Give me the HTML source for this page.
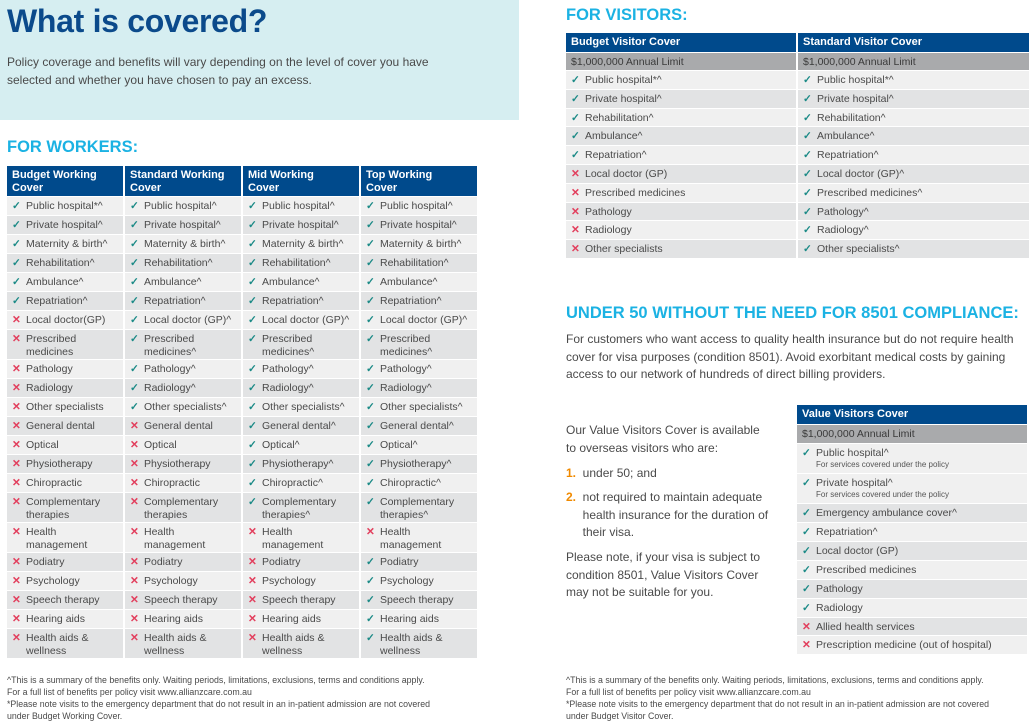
<!DOCTYPE html>
<html><head><meta charset="utf-8">
<style>
*{margin:0;padding:0;box-sizing:border-box}
body{width:1035px;height:727px;background:#fff;position:relative;overflow:hidden;font-family:"Liberation Sans",sans-serif;color:#4a4a4a}
.abs{position:absolute}
.hero{left:0;top:0;width:519px;height:120px;background:#d6eef1}
h1{position:absolute;left:7px;top:3px;font-size:32px;color:#0b4a8b;font-weight:bold;letter-spacing:-0.3px}
.sec{position:absolute;font-size:16.5px;font-weight:bold;color:#1bb2e3}
.p{position:absolute;font-size:12px;line-height:17.5px;color:#4a4a4a}
table{position:absolute;border-collapse:separate;border-spacing:2px 1px;table-layout:fixed}
td,th{font-size:10.5px;vertical-align:top;padding:3px 4px 0 5px;line-height:13px;overflow:hidden;white-space:nowrap}
th{background:#004a8c;color:#fff;text-align:left;font-size:11px;line-height:13px;padding-top:3px}
tr.l td{background:#f0f0f0}
tr.d td{background:#e2e3e4}
tr.g td{background:#a9aaac;color:#3a3a3a}
td.c::before{content:"✓";color:#1b8a86;font-weight:bold;display:inline-block;width:14px}
td.x::before{content:"✕";color:#e2405e;font-weight:bold;display:inline-block;width:14px}
td span{display:inline-block;vertical-align:top;white-space:normal}
.s{font-size:8px;color:#555;display:block;margin-left:14px;line-height:10px}
.fn{position:absolute;font-size:8.8px;line-height:12px;color:#4a4a4a}
</style></head><body>
<div class="abs hero"></div>
<h1>What is covered?</h1>
<div class="p" style="left:7px;top:54px">Policy coverage and benefits will vary depending on the level of cover you have<br>selected and whether you have chosen to pay an excess.</div>
<div class="sec" style="left:7px;top:138px">FOR WORKERS:</div>

<table style="left:5px;top:165px;width:472px">
<colgroup><col style="width:116px"><col style="width:116px"><col style="width:116px"><col style="width:116px"></colgroup>
<tr style="height:30px"><th>Budget Working<br>Cover</th><th>Standard Working<br>Cover</th><th>Mid Working<br>Cover</th><th>Top Working<br>Cover</th></tr>
<tr class="l" style="height:18px"><td class="c">Public hospital*^</td><td class="c">Public hospital^</td><td class="c">Public hospital^</td><td class="c">Public hospital^</td></tr>
<tr class="d" style="height:18px"><td class="c">Private hospital^</td><td class="c">Private hospital^</td><td class="c">Private hospital^</td><td class="c">Private hospital^</td></tr>
<tr class="l" style="height:18px"><td class="c">Maternity &amp; birth^</td><td class="c">Maternity &amp; birth^</td><td class="c">Maternity &amp; birth^</td><td class="c">Maternity &amp; birth^</td></tr>
<tr class="d" style="height:18px"><td class="c">Rehabilitation^</td><td class="c">Rehabilitation^</td><td class="c">Rehabilitation^</td><td class="c">Rehabilitation^</td></tr>
<tr class="l" style="height:18px"><td class="c">Ambulance^</td><td class="c">Ambulance^</td><td class="c">Ambulance^</td><td class="c">Ambulance^</td></tr>
<tr class="d" style="height:18px"><td class="c">Repatriation^</td><td class="c">Repatriation^</td><td class="c">Repatriation^</td><td class="c">Repatriation^</td></tr>
<tr class="l" style="height:18px"><td class="x">Local doctor(GP)</td><td class="c">Local doctor (GP)^</td><td class="c">Local doctor (GP)^</td><td class="c">Local doctor (GP)^</td></tr>
<tr class="d" style="height:29px"><td class="x"><span>Prescribed<br>medicines</span></td><td class="c"><span>Prescribed<br>medicines^</span></td><td class="c"><span>Prescribed<br>medicines^</span></td><td class="c"><span>Prescribed<br>medicines^</span></td></tr>
<tr class="l" style="height:18px"><td class="x">Pathology</td><td class="c">Pathology^</td><td class="c">Pathology^</td><td class="c">Pathology^</td></tr>
<tr class="d" style="height:18px"><td class="x">Radiology</td><td class="c">Radiology^</td><td class="c">Radiology^</td><td class="c">Radiology^</td></tr>
<tr class="l" style="height:18px"><td class="x">Other specialists</td><td class="c">Other specialists^</td><td class="c">Other specialists^</td><td class="c">Other specialists^</td></tr>
<tr class="d" style="height:18px"><td class="x">General dental</td><td class="x">General dental</td><td class="c">General dental^</td><td class="c">General dental^</td></tr>
<tr class="l" style="height:18px"><td class="x">Optical</td><td class="x">Optical</td><td class="c">Optical^</td><td class="c">Optical^</td></tr>
<tr class="d" style="height:18px"><td class="x">Physiotherapy</td><td class="x">Physiotherapy</td><td class="c">Physiotherapy^</td><td class="c">Physiotherapy^</td></tr>
<tr class="l" style="height:18px"><td class="x">Chiropractic</td><td class="x">Chiropractic</td><td class="c">Chiropractic^</td><td class="c">Chiropractic^</td></tr>
<tr class="d" style="height:29px"><td class="x"><span>Complementary<br>therapies</span></td><td class="x"><span>Complementary<br>therapies</span></td><td class="c"><span>Complementary<br>therapies^</span></td><td class="c"><span>Complementary<br>therapies^</span></td></tr>
<tr class="l" style="height:29px"><td class="x"><span>Health<br>management</span></td><td class="x"><span>Health<br>management</span></td><td class="x"><span>Health<br>management</span></td><td class="x"><span>Health<br>management</span></td></tr>
<tr class="d" style="height:18px"><td class="x">Podiatry</td><td class="x">Podiatry</td><td class="x">Podiatry</td><td class="c">Podiatry</td></tr>
<tr class="l" style="height:18px"><td class="x">Psychology</td><td class="x">Psychology</td><td class="x">Psychology</td><td class="c">Psychology</td></tr>
<tr class="d" style="height:18px"><td class="x">Speech therapy</td><td class="x">Speech therapy</td><td class="x">Speech therapy</td><td class="c">Speech therapy</td></tr>
<tr class="l" style="height:18px"><td class="x">Hearing aids</td><td class="x">Hearing aids</td><td class="x">Hearing aids</td><td class="c">Hearing aids</td></tr>
<tr class="d" style="height:29px"><td class="x"><span>Health aids &amp;<br>wellness</span></td><td class="x"><span>Health aids &amp;<br>wellness</span></td><td class="x"><span>Health aids &amp;<br>wellness</span></td><td class="c"><span>Health aids &amp;<br>wellness</span></td></tr>
</table>

<div class="fn" style="left:7px;top:674px">^This is a summary of the benefits only. Waiting periods, limitations, exclusions, terms and conditions apply.<br>For a full list of benefits per policy visit www.allianzcare.com.au<br>*Please note visits to the emergency department that do not result in an in-patient admission are not covered<br>under Budget Working Cover.</div>

<div class="sec" style="left:566px;top:6px">FOR VISITORS:</div>
<table style="left:564px;top:32px;width:465px">
<colgroup><col style="width:230px"><col style="width:231px"></colgroup>
<tr style="height:19px"><th>Budget Visitor Cover</th><th>Standard Visitor Cover</th></tr>
<tr class="g" style="height:17px"><td>$1,000,000 Annual Limit</td><td>$1,000,000 Annual Limit</td></tr>
<tr class="l" style="height:17.8px"><td class="c">Public hospital*^</td><td class="c">Public hospital*^</td></tr>
<tr class="d" style="height:17.8px"><td class="c">Private hospital^</td><td class="c">Private hospital^</td></tr>
<tr class="l" style="height:17.8px"><td class="c">Rehabilitation^</td><td class="c">Rehabilitation^</td></tr>
<tr class="d" style="height:17.8px"><td class="c">Ambulance^</td><td class="c">Ambulance^</td></tr>
<tr class="l" style="height:17.8px"><td class="c">Repatriation^</td><td class="c">Repatriation^</td></tr>
<tr class="d" style="height:17.8px"><td class="x">Local doctor (GP)</td><td class="c">Local doctor (GP)^</td></tr>
<tr class="l" style="height:17.8px"><td class="x">Prescribed medicines</td><td class="c">Prescribed medicines^</td></tr>
<tr class="d" style="height:17.8px"><td class="x">Pathology</td><td class="c">Pathology^</td></tr>
<tr class="l" style="height:17.8px"><td class="x">Radiology</td><td class="c">Radiology^</td></tr>
<tr class="d" style="height:17.8px"><td class="x">Other specialists</td><td class="c">Other specialists^</td></tr>
</table>

<div class="sec" style="left:566px;top:304px">UNDER 50 WITHOUT THE NEED FOR 8501 COMPLIANCE:</div>
<div class="p" style="left:566px;top:331px">For customers who want access to quality health insurance but do not require health<br>cover for visa purposes (condition 8501). Avoid exorbitant medical costs by gaining<br>access to our network of hundreds of direct billing providers.</div>

<div class="p" style="left:566px;top:422px">Our Value Visitors Cover is available<br>to overseas visitors who are:</div>
<div class="p" style="left:566px;top:465px"><b style="color:#f08a00">1.</b>&nbsp; under 50; and</div>
<div class="p" style="left:566px;top:489px"><b style="color:#f08a00">2.</b>&nbsp; not required to maintain adequate<br>&nbsp;&nbsp;&nbsp;&nbsp; health insurance for the duration of<br>&nbsp;&nbsp;&nbsp;&nbsp; their visa.</div>
<div class="p" style="left:566px;top:549px">Please note, if your visa is subject to<br>condition 8501, Value Visitors Cover<br>may not be suitable for you.</div>

<table style="left:795px;top:404px;width:234px">
<colgroup><col style="width:230px"></colgroup>
<tr style="height:19px"><th>Value Visitors Cover</th></tr>
<tr class="g" style="height:18px"><td>$1,000,000 Annual Limit</td></tr>
<tr class="l" style="height:29px"><td class="c">Public hospital^<span class="s">For services covered under the policy</span></td></tr>
<tr class="l" style="height:29px"><td class="c">Private hospital^<span class="s">For services covered under the policy</span></td></tr>
<tr class="d" style="height:18px"><td class="c">Emergency ambulance cover^</td></tr>
<tr class="l" style="height:18px"><td class="c">Repatriation^</td></tr>
<tr class="d" style="height:18px"><td class="c">Local doctor (GP)</td></tr>
<tr class="l" style="height:18px"><td class="c">Prescribed medicines</td></tr>
<tr class="d" style="height:18px"><td class="c">Pathology</td></tr>
<tr class="l" style="height:18px"><td class="c">Radiology</td></tr>
<tr class="d" style="height:17px"><td class="x">Allied health services</td></tr>
<tr class="l" style="height:18px"><td class="x">Prescription medicine (out of hospital)</td></tr>
</table>

<div class="fn" style="left:566px;top:674px">^This is a summary of the benefits only. Waiting periods, limitations, exclusions, terms and conditions apply.<br>For a full list of benefits per policy visit www.allianzcare.com.au<br>*Please note visits to the emergency department that do not result in an in-patient admission are not covered<br>under Budget Visitor Cover.</div>
</body></html>
